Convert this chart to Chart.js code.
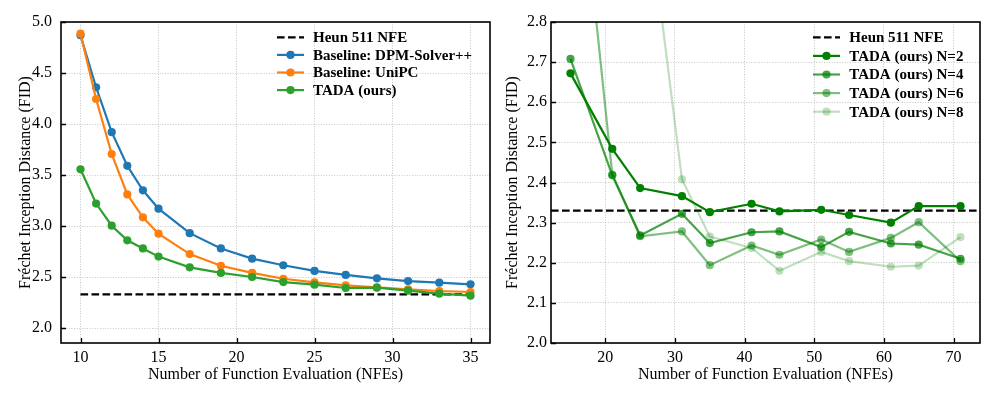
<!DOCTYPE html>
<html>
<head>
<meta charset="utf-8">
<script src="https://cdn.jsdelivr.net/npm/chart.js@4.4.1/dist/chart.umd.min.js"></script>
<style>
  body { margin: 0; background: #fff; width: 997px; height: 399px; overflow: hidden; position: relative; }
  canvas { position: absolute; top: 0; }
  #left { left: 0; }
  #right { left: 497px; }
</style>
</head>
<body>
<canvas id="left" width="497" height="399"></canvas>
<canvas id="right" width="500" height="399"></canvas>
<script>
// left panel: baselines vs TADA
const nfeBaseline = [10, 11, 12, 13, 14, 15, 17, 19, 21, 23, 25, 27, 29, 31, 33, 35]
const dpmSolver = [4.87, 4.36, 3.92, 3.59, 3.35, 3.17, 2.93, 2.78, 2.68, 2.615, 2.56, 2.52, 2.487, 2.46, 2.444, 2.428]
const uniPC = [4.886, 4.245, 3.706, 3.31, 3.085, 2.925, 2.725, 2.61, 2.54, 2.483, 2.448, 2.418, 2.399, 2.38, 2.363, 2.353]
const tadaOurs = [3.556, 3.22, 3.003, 2.86, 2.78, 2.7, 2.595, 2.54, 2.5, 2.45, 2.425, 2.392, 2.395, 2.366, 2.337, 2.317]
const heunFid = 2.33

// right panel: TADA with different N
const nfeTada = [15, 21, 25, 31, 35, 41, 45, 51, 55, 61, 65, 71]
const tadaN2 = [2.672, 2.484, 2.386, 2.366, 2.326, 2.347, 2.328, 2.332, 2.319, 2.3, 2.341, 2.341]
const tadaN4 = [2.708, 2.418, 2.268, 2.322, 2.249, 2.276, 2.278, 2.239, 2.277, 2.248, 2.245, 2.21]
const tadaN6 = [3.42, 2.42, 2.266, 2.278, 2.194, 2.243, 2.22, 2.258, 2.227, 2.262, 2.301, 2.204]
const tadaN8 = [4.3, 3.8, 3.24, 2.408, 2.265, 2.237, 2.18, 2.227, 2.204, 2.19, 2.193, 2.264]

// ticks and axis ranges
const xTicksLeft = [10, 15, 20, 25, 30, 35]
const yTicksLeft = [2.0, 2.5, 3.0, 3.5, 4.0, 4.5, 5.0]
const xRangeLeft = [8.75, 36.25]
const yRangeLeft = [1.853, 5.0]
const xTicksRight = [20, 30, 40, 50, 60, 70]
const yTicksRight = [2.0, 2.1, 2.2, 2.3, 2.4, 2.5, 2.6, 2.7, 2.8]
const xRangeRight = [12.2, 73.8]
const yRangeRight = [2.0, 2.8]

const xTitle = 'Number of Function Evaluation (NFEs)'
const yTitle = 'Fréchet Inception Distance (FID)'

Chart.defaults.font.family = "'Liberation Serif', 'Times New Roman', serif"
Chart.defaults.font.size = 16
Chart.defaults.color = '#000'

function series(label, xs, ys, color, order) {
  return {
    label,
    order,
    data: xs.map((x, i) => ({ x, y: ys[i] })),
    borderColor: color,
    backgroundColor: color,
    pointBackgroundColor: color,
    pointBorderColor: color,
    borderWidth: 2.2,
    pointRadius: 4.1,
    pointBorderWidth: 0,
    showLine: true,
    tension: 0,
  }
}

function hline(label, x0, x1, y, order) {
  return {
    label,
    order,
    data: [{ x: x0, y }, { x: x1, y }],
    borderColor: '#000',
    backgroundColor: '#000',
    borderWidth: 2.2,
    borderDash: [7.6, 3.4],
    pointRadius: 0,
    showLine: true,
    dashed: true,
  }
}

// matplotlib-like frame with inward ticks on left/bottom
const mplFrame = {
  id: 'mplFrame',
  afterDatasetsDraw(chart) {
    const { ctx, chartArea: a, scales } = chart
    ctx.save()
    ctx.strokeStyle = '#000'
    ctx.lineWidth = 1.3
    ctx.beginPath()
    scales.x.ticks.forEach((t) => {
      const px = Math.round(scales.x.getPixelForValue(t.value)) + 0.5
      ctx.moveTo(px, a.bottom)
      ctx.lineTo(px, a.bottom - 5)
    })
    scales.y.ticks.forEach((t) => {
      const py = Math.round(scales.y.getPixelForValue(t.value)) + 0.5
      ctx.moveTo(a.left, py)
      ctx.lineTo(a.left + 5, py)
    })
    ctx.stroke()
    ctx.lineWidth = 1.6
    ctx.strokeRect(a.left, a.top, a.right - a.left, a.bottom - a.top)
    ctx.restore()
  },
}

// legend drawn like matplotlib: line + marker handle, bold text
const mplLegend = {
  id: 'mplLegend',
  afterDraw(chart, args, opts) {
    const { ctx } = chart
    const items = chart.data.datasets.slice().sort((p, q) => q.order - p.order)
    ctx.save()
    ctx.font = 'bold 15px ' + Chart.defaults.font.family
    ctx.textBaseline = 'middle'
    items.forEach((ds, i) => {
      const y = opts.top + i * opts.step
      ctx.strokeStyle = ds.borderColor
      ctx.lineWidth = 2.2
      ctx.setLineDash(ds.dashed ? [7.6, 3.4] : [])
      ctx.beginPath()
      ctx.moveTo(opts.handleX, y)
      ctx.lineTo(opts.handleX + 27, y)
      ctx.stroke()
      ctx.setLineDash([])
      if (!ds.dashed) {
        ctx.fillStyle = ds.borderColor
        ctx.beginPath()
        ctx.arc(opts.handleX + 13.5, y, 4.1, 0, Math.PI * 2)
        ctx.fill()
      }
      ctx.fillStyle = '#000'
      ctx.fillText(ds.label, opts.textX, y + 1)
    })
    ctx.restore()
  },
}

function axis(range, ticks, fixed, title, decimals, pad, titlePad) {
  return {
    type: 'linear',
    min: range[0],
    max: range[1],
    afterBuildTicks: (s) => {
      s.ticks = ticks.map((v) => ({ value: v }))
    },
    afterFit: (s) => {
      if (s.isHorizontal()) s.height = fixed
      else s.width = fixed
    },
    grid: { color: '#b8b8b8', lineWidth: 0.8, drawTicks: false },
    border: { display: false, dash: [1, 1.6] },
    ticks: {
      padding: pad,
      maxRotation: 0,
      autoSkip: false,
      callback: (v) => (decimals ? v.toFixed(decimals) : String(v)),
    },
    title: { display: true, text: title, font: { size: 16 }, padding: titlePad },
  }
}

function makeChart(id, datasets, scales, padding, legend) {
  return new Chart(document.getElementById(id), {
    type: 'scatter',
    data: { datasets },
    options: {
      responsive: false,
      animation: false,
      events: [],
      layout: { padding },
      scales,
      plugins: { legend: { display: false }, tooltip: { enabled: false }, mplLegend: legend },
    },
    plugins: [mplFrame, mplLegend],
  })
}

makeChart(
  'left',
  [
    hline('Heun 511 NFE', nfeBaseline[0], nfeBaseline[nfeBaseline.length - 1], heunFid, 4),
    series('Baseline: DPM-Solver++', nfeBaseline, dpmSolver, '#1f77b4', 3),
    series('Baseline: UniPC', nfeBaseline, uniPC, '#ff7f0e', 2),
    series('TADA (ours)', nfeBaseline, tadaOurs, '#2ca02c', 1),
  ],
  {
    x: axis(xRangeLeft, xTicksLeft, 56, xTitle, 0, 5, { top: 0, bottom: 15 }),
    y: axis(yRangeLeft, yTicksLeft, 61, yTitle, 1, 9, { top: 16, bottom: 0 }),
  },
  { top: 22, right: 7, left: 0, bottom: 0 },
  { handleX: 277, textX: 313, top: 37.3, step: 17.6 }
)

makeChart(
  'right',
  [
    hline('Heun 511 NFE', xRangeRight[0], xRangeRight[1], heunFid, 5),
    series('TADA (ours) N=2', nfeTada, tadaN2, 'rgba(0,128,0,1)', 4),
    series('TADA (ours) N=4', nfeTada, tadaN4, 'rgba(0,128,0,0.72)', 3),
    series('TADA (ours) N=6', nfeTada, tadaN6, 'rgba(0,128,0,0.5)', 2),
    series('TADA (ours) N=8', nfeTada, tadaN8, 'rgba(0,128,0,0.25)', 1),
  ],
  {
    x: axis(xRangeRight, xTicksRight, 56, xTitle, 0, 5, { top: 0, bottom: 15 }),
    y: axis(yRangeRight, yTicksRight, 54, yTitle, 1, 4, { top: 6, bottom: 0 }),
  },
  { top: 22, right: 17, left: 0, bottom: 0 },
  { handleX: 316, textX: 352.3, top: 37.3, step: 18.6 }
)
</script>
</body>
</html>
